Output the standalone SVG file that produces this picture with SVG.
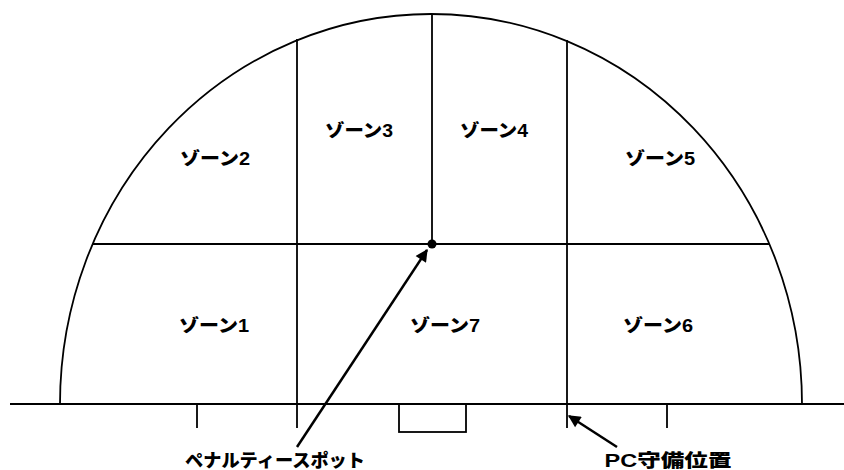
<svg xmlns="http://www.w3.org/2000/svg" width="844" height="470" viewBox="0 0 844 470">
<defs>
<style>
.ln{stroke:#000;stroke-width:1.8;fill:none}
.t{font-family:"Liberation Sans","Noto Sans CJK JP",sans-serif;font-weight:900;font-size:18px;fill:#000;text-anchor:middle}
</style>
<marker id="ah" viewBox="0 0 10 10" refX="9" refY="5" markerWidth="6" markerHeight="5" orient="auto" markerUnits="strokeWidth">
<path d="M0,0 L10,5 L0,10 Z" fill="#000"/>
</marker>
</defs>
<rect width="844" height="470" fill="#fff"/>
<g id="field">
<line class="ln" x1="10" y1="404" x2="844" y2="404"/>
<path class="ln" d="M60,404 A371,390 0 0 1 802,404"/>
<line class="ln" x1="93" y1="244" x2="769" y2="244"/>
<line class="ln" x1="432" y1="14" x2="432" y2="244"/>
<line class="ln" x1="297" y1="39" x2="297" y2="428"/>
<line class="ln" x1="567" y1="40" x2="567" y2="428"/>
<line class="ln" x1="197" y1="404" x2="197" y2="428"/>
<line class="ln" x1="667" y1="404" x2="667" y2="428"/>
<rect class="ln" x="399" y="404" width="67" height="28"/>
<circle cx="432" cy="244" r="4.5" fill="#000"/>
</g>
<g id="zone1"><text class="t" x="214" y="332" textLength="70" lengthAdjust="spacingAndGlyphs">ゾーン1</text></g>
<g id="zone2"><text class="t" x="215" y="165" textLength="70" lengthAdjust="spacingAndGlyphs">ゾーン2</text></g>
<g id="zone3"><text class="t" x="359" y="137" textLength="68" lengthAdjust="spacingAndGlyphs">ゾーン3</text></g>
<g id="zone4"><text class="t" x="494" y="137" textLength="68" lengthAdjust="spacingAndGlyphs">ゾーン4</text></g>
<g id="zone5"><text class="t" x="660" y="165" textLength="70" lengthAdjust="spacingAndGlyphs">ゾーン5</text></g>
<g id="zone6"><text class="t" x="658" y="332" textLength="70" lengthAdjust="spacingAndGlyphs">ゾーン6</text></g>
<g id="zone7"><text class="t" x="445" y="332" textLength="70" lengthAdjust="spacingAndGlyphs">ゾーン7</text></g>
<g id="label-penalty"><text class="t" x="275" y="467" textLength="180" lengthAdjust="spacingAndGlyphs">ペナルティースポット</text></g>
<g id="label-pc"><text class="t" x="668" y="467" textLength="127" lengthAdjust="spacingAndGlyphs">PC守備位置</text></g>
<g id="connectors">
<line x1="297" y1="447" x2="427" y2="250" stroke="#000" stroke-width="2.5" marker-end="url(#ah)"/>
<line x1="617" y1="447" x2="569" y2="416" stroke="#000" stroke-width="2.5" marker-end="url(#ah)"/>
</g>
</svg>
